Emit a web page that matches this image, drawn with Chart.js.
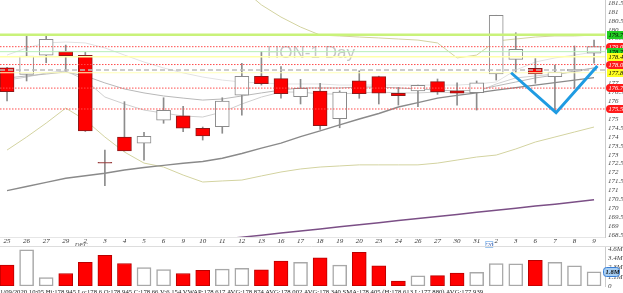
<!DOCTYPE html>
<html>
<head>
<meta charset="utf-8">
<script src="https://cdn.jsdelivr.net/npm/chart.js@4.4.1/dist/chart.umd.min.js"></script>
<style>
  html, body { margin: 0; padding: 0; background: #fff; width: 623px; height: 293px; overflow: hidden; }
  #wrap { position: relative; width: 623px; height: 293px; overflow: hidden; }
  #priceChart { position: absolute; left: 0; top: 0; }
  #volChart { position: absolute; left: 0; top: 240px; }
  #status { position: absolute; left: 0; top: 287px; font: 6.7px "Liberation Serif", "DejaVu Serif", serif; color: #222; white-space: nowrap; line-height: 10px; }
</style>
</head>
<body>
<div id="wrap">
  <canvas id="priceChart" width="623" height="250"></canvas>
  <canvas id="volChart" width="623" height="53"></canvas>
  <div id="status">1/09/2020 10:05 Hi:178.945 Lo:178.6 O:178.945 C:178.66 V:6.154 VWAP:178.617 AVG:178.874 AVG:178.002 AVG:178.340 SMA:178.405 (H:178.613 L:177.880) AVG:177.939</div>
</div>
<script>
// daily bars, HON
const dateLabels = ['25','26','27','29','2','3','4','5','6','9','10','11','12','13','16','17','18','19','20','23','24','26','27','30','31','2','3','6','7','8','9'];
const monthLabels = { 4: 'DEC', 25: "'20" };

const opens  = [177.87, 177.50, 178.58, 178.77, 178.57, 172.57, 173.99, 173.65, 174.93, 175.18, 174.48, 174.57, 176.33, 177.39, 177.26, 176.25, 176.57, 175.02, 177.14, 177.37, 176.44, 176.57, 177.09, 176.58, 176.47, 177.52, 178.34, 177.84, 177.37, 177.69, 178.68];
const highs  = [177.90, 179.74, 179.67, 179.14, 178.74, 173.26, 175.97, 174.25, 176.19, 175.71, 174.55, 176.19, 178.12, 178.77, 177.93, 177.22, 177.00, 176.58, 177.70, 177.40, 176.77, 176.90, 177.24, 177.03, 177.13, 180.81, 179.83, 178.38, 178.02, 179.09, 179.42];
const lows   = [176.01, 177.13, 178.15, 177.69, 174.30, 171.26, 173.20, 172.70, 174.76, 174.29, 173.82, 174.20, 175.22, 176.90, 176.16, 175.84, 174.42, 174.51, 176.16, 175.84, 175.78, 175.69, 176.38, 175.77, 175.50, 177.18, 177.59, 177.00, 175.41, 176.72, 178.12];
const closes = [176.53, 178.53, 179.46, 178.55, 174.33, 172.53, 173.21, 174.03, 175.49, 174.48, 174.05, 176.01, 177.39, 176.98, 176.42, 176.72, 174.62, 176.51, 176.42, 176.44, 176.30, 176.89, 176.51, 176.44, 177.03, 180.81, 178.90, 177.52, 177.63, 177.78, 179.05];
const volumes = [2.6, 4.5, 1.05, 1.55, 2.95, 3.8, 2.8, 2.3, 2.05, 1.55, 1.95, 2.1, 2.2, 2.0, 3.1, 2.95, 3.5, 2.6, 4.2, 2.5, 0.6, 1.25, 1.3, 1.6, 1.7, 2.8, 2.75, 3.2, 2.95, 2.5, 1.75];

// overlays
const sma50   = [170.99, 171.22, 171.45, 171.68, 171.82, 171.96, 172.14, 172.28, 172.40, 172.52, 172.62, 172.80, 173.07, 173.37, 173.65, 174.01, 174.33, 174.67, 175.00, 175.31, 175.67, 175.92, 176.17, 176.32, 176.46, 176.62, 176.76, 176.90, 177.04, 177.18, 177.32];
const maMid   = [177.30, 177.41, 177.52, 177.63, 177.41, 177.02, 176.68, 176.46, 176.29, 176.17, 176.06, 176.12, 176.29, 176.46, 176.62, 176.74, 176.74, 176.74, 176.79, 176.79, 176.74, 176.68, 176.62, 176.57, 176.62, 176.85, 177.07, 177.30, 177.46, 177.69, 177.86];
const maFast  = [177.18, 177.35, 177.58, 177.69, 177.18, 176.23, 175.84, 175.50, 175.33, 175.17, 175.11, 175.39, 175.84, 176.23, 176.51, 176.51, 176.40, 176.40, 176.46, 176.51, 176.46, 176.46, 176.51, 176.46, 176.51, 176.96, 177.30, 177.41, 177.52, 177.63, 177.86];
const maSlow  = [178.58, 178.98, 179.26, 179.31, 179.26, 178.98, 178.58, 178.19, 177.86, 177.58, 177.35, 177.18, 177.07, 177.02, 176.96, 176.96, 176.96, 176.90, 176.90, 176.90, 176.90, 176.90, 176.90, 176.90, 176.96, 177.07, 177.74, 178.19, 178.42, 178.58, 178.75];
const bandUpper = [null, null, null, null, null, null, null, null, null, null, null, null, 182.33, 181.39, 180.71, 180.15, 179.70, 179.65, 179.59, 179.54, 179.48, 179.42, 179.26, 178.42, 178.58, 179.37, 179.48, 179.59, 179.65, 179.65, 179.70];
const bandLower = [173.26, 173.99, 174.77, 175.61, 174.94, 173.99, 173.15, 172.53, 172.31, 171.86, 171.47, 171.53, 171.58, 171.81, 172.03, 172.20, 172.31, 172.37, 172.43, 172.43, 172.43, 172.43, 172.53, 172.70, 172.87, 172.98, 173.32, 173.71, 173.99, 174.27, 174.55];
const sma200  = [166.99, 167.10, 167.22, 167.33, 167.45, 167.57, 167.68, 167.80, 167.91, 168.03, 168.15, 168.26, 168.38, 168.49, 168.61, 168.73, 168.84, 168.96, 169.07, 169.19, 169.31, 169.42, 169.54, 169.65, 169.77, 169.89, 170.00, 170.12, 170.23, 170.35, 170.47];

// horizontal levels and their axis tags
const levelPrices = [179.72, 179.05, 178.77, 178.49, 178.05, 177.74, 177.59, 176.73, 175.56];
const tagTexts  = ['179.72', '179.05', '178.77', '178.49', '178.05', '177.87', '176.73', '175.56'];
const tagPrices = [179.72, 179.05, 178.77, 178.49, 178.05, 177.59, 176.73, 175.56];
const tagKinds  = ['green', 'red', 'green', 'yellow', 'red', 'yellow', 'red', 'red'];

// hand drawn V
const vPattern = [{x: 25.76, y: 177.59}, {x: 28.06, y: 175.35}, {x: 30.17, y: 177.97}];

const priceTicks = [168.5, 169, 169.5, 170, 170.5, 171, 171.5, 172, 172.5, 173, 173.5, 174, 174.5, 175, 175.5, 176, 176.5, 177, 177.5, 178, 178.5, 179, 179.5, 180, 180.5, 181, 181.5];
const volumeTicks = [0, 1.15, 2.3, 3.45, 4.6];
const volumeTickLabels = ['0', '1.1M', '2.3M', '3.4M', '4.6M'];
const lastVolumeTag = '1.8M';
const watermark = 'HON-1 Day';

const X_MIN = -0.36, X_MAX = 30.56;
const tickFont = { family: "'Liberation Serif', 'DejaVu Serif', serif", size: 7, style: 'italic' };

const isDown = (i) => closes[i] < opens[i];
const isDoji = (i) => Math.abs(closes[i] - opens[i]) < 0.06;
const pts = (vals) => vals.map((v, i) => ({ x: i, y: v }));

const lineDs = (vals, color, width, order) => ({
  type: 'line', data: pts(vals), borderColor: color, borderWidth: width,
  pointRadius: 0, tension: 0, fill: false, order: order, spanGaps: false
});

// level line styles
const levelStyles = [
  { color: '#c9f27a', width: 2.5, dash: [] },
  { color: '#ff4d4d', width: 1, dash: [1.5, 1.5] },
  { color: '#b6efb6', width: 1, dash: [] },
  { color: '#ffffaa', width: 1.5, dash: [] },
  { color: '#ff4d4d', width: 1, dash: [1.5, 1.5] },
  { color: '#bdbdbd', width: 1.5, dash: [5, 3] },
  { color: '#ffffb8', width: 1, dash: [] },
  { color: '#ff4d4d', width: 1, dash: [1.5, 1.5] },
  { color: '#ff4d4d', width: 1, dash: [1.5, 1.5] }
];

const levelSets = levelPrices.map((p, k) => ({
  type: 'line',
  data: [{ x: X_MIN, y: p }, { x: X_MAX, y: p }],
  borderColor: levelStyles[k].color,
  borderWidth: levelStyles[k].width,
  borderDash: levelStyles[k].dash,
  pointRadius: 0, fill: false, order: 1
}));

const idx = dateLabels.map((_, i) => i);

const priceDecor = {
  id: 'priceDecor',
  beforeDatasetsDraw(chart) {
    const { ctx, chartArea } = chart;
    ctx.save();
    ctx.font = "17px 'Liberation Sans', Arial, sans-serif";
    ctx.fillStyle = '#c6c6c6';
    ctx.textAlign = 'center';
    ctx.textBaseline = 'alphabetic';
    ctx.fillText(watermark, chartArea.left + chartArea.width * 0.514, 58);
    ctx.restore();
  },
  afterDraw(chart) {
    const { ctx, chartArea, scales } = chart;
    ctx.save();
    ctx.font = "italic 6.5px 'Liberation Serif', serif";
    ctx.textBaseline = 'middle';
    tagPrices.forEach((p, k) => {
      const y = Math.round(scales.y.getPixelForValue(p));
      const x0 = chartArea.right + 1;
      const w = chart.width - x0;
      const kind = tagKinds[k];
      let fill = '#22cc22', txt = '#000';
      if (kind === 'red') { fill = '#ff1a1a'; txt = '#fff'; }
      if (kind === 'yellow') { fill = '#ffff22'; txt = '#000'; }
      ctx.fillStyle = fill;
      ctx.beginPath();
      if (kind === 'red') {
        ctx.moveTo(x0 + 4, y - 4);
        ctx.lineTo(x0 + w, y - 4);
        ctx.lineTo(x0 + w, y + 4);
        ctx.lineTo(x0 + 4, y + 4);
        ctx.arc(x0 + 4, y, 4, Math.PI / 2, Math.PI * 1.5);
      } else {
        ctx.rect(x0 + 1, y - 4, w, 8);
      }
      ctx.fill();
      ctx.fillStyle = txt;
      ctx.textAlign = 'left';
      ctx.fillText(tagTexts[k], x0 + 2.5, y + 0.5);
    });

    // month markers under the date row
    ctx.font = "italic 6.5px 'Liberation Serif', serif";
    ctx.fillStyle = '#444';
    ctx.textAlign = 'center';
    Object.keys(monthLabels).forEach((key) => {
      const x = scales.x.getPixelForValue(Number(key));
      if (monthLabels[key] === 'DEC') {
        ctx.fillText(monthLabels[key], x - 4, 245);
      } else {
        ctx.strokeStyle = '#9cc4ee';
        ctx.strokeRect(x - 10.5, 241.5, 7, 6);
        ctx.fillStyle = '#3355aa';
        ctx.fillText(monthLabels[key], x - 7, 245);
      }
    });
    ctx.restore();
  }
};

new Chart(document.getElementById('priceChart'), {
  type: 'bar',
  data: {
    datasets: [
      { type: 'line', data: vPattern, borderColor: '#1f9be2', borderWidth: 3, pointRadius: 0, tension: 0, fill: false, order: 0 },
      ...levelSets,
      {
        type: 'bar',
        data: idx.map(i => ({ x: i, y: [opens[i], closes[i]] })),
        backgroundColor: idx.map(i => isDoji(i) ? '#9a3c3c' : (isDown(i) ? '#ff0000' : '#ffffff')),
        borderColor: idx.map(i => isDoji(i) ? '#9a3c3c' : (isDown(i) ? '#8c1a1a' : '#8a8a8a')),
        borderWidth: 1, borderSkipped: false, barThickness: 14, grouped: false, order: 2
      },
      {
        type: 'bar',
        data: idx.map(i => ({ x: i, y: [lows[i], highs[i]] })),
        backgroundColor: '#8c8c8c', borderWidth: 0, barThickness: 1, grouped: false, order: 3
      },
      lineDs(sma50, '#8a8a8a', 1.4, 4),
      lineDs(maMid, '#b8b8b8', 1, 5),
      lineDs(maFast, '#cfcfcf', 1, 6),
      lineDs(maSlow, '#e2e2e2', 1, 7),
      lineDs(bandUpper, '#d3d3a0', 1, 8),
      lineDs(bandLower, '#d3d3a0', 1, 9),
      lineDs(sma200, '#7b4f86', 1.5, 10)
    ]
  },
  options: {
    animation: false, responsive: false, devicePixelRatio: 1,
    layout: { padding: 0 },
    plugins: { legend: { display: false }, tooltip: { enabled: false } },
    scales: {
      x: {
        type: 'linear', min: X_MIN, max: X_MAX, offset: false,
        grid: { display: false, drawTicks: false, offset: false },
        border: { display: true, color: '#e6e6e6' },
        ticks: { autoSkip: false, maxRotation: 0, padding: 0, font: tickFont, color: '#333',
          callback: (v) => dateLabels[v] !== undefined ? dateLabels[v] : '' },
        afterBuildTicks: (s) => { s.ticks = idx.map(i => ({ value: i })); },
        afterFit: (s) => { s.height = 13; s.paddingLeft = 0; s.paddingRight = 0; }
      },
      y: {
        type: 'linear', position: 'right', min: 168.39, max: 181.665,
        grid: { display: false, drawTicks: false },
        border: { display: true, color: '#cccccc' },
        ticks: { autoSkip: false, padding: 3, font: tickFont, color: '#444', callback: (v) => String(v) },
        afterBuildTicks: (s) => { s.ticks = priceTicks.map(v => ({ value: v })); },
        afterFit: (s) => { s.width = 18; s.paddingTop = 0; s.paddingBottom = 0; }
      }
    }
  },
  plugins: [priceDecor]
});

const volDecor = {
  id: 'volDecor',
  beforeDraw(chart) {
    const { ctx, chartArea } = chart;
    ctx.save();
    ctx.strokeStyle = '#dddddd';
    ctx.lineWidth = 1;
    ctx.beginPath();
    ctx.moveTo(0, chartArea.top - 0.5);
    ctx.lineTo(chart.width, chartArea.top - 0.5);
    ctx.stroke();
    ctx.restore();
  },
  afterDraw(chart) {
    const { ctx, chartArea, scales } = chart;
    const y = Math.round(scales.y.getPixelForValue(volumes[volumes.length - 1]));
    const x0 = chartArea.right - 2;
    ctx.save();
    ctx.fillStyle = '#a6cdf2';
    ctx.strokeStyle = '#3a7fd6';
    ctx.lineWidth = 1;
    ctx.beginPath();
    ctx.roundRect(x0 + 0.5, y - 4.5, 16, 9, 3);
    ctx.fill();
    ctx.stroke();
    ctx.fillStyle = '#111';
    ctx.font = "italic bold 6.5px 'Liberation Serif', serif";
    ctx.textBaseline = 'middle';
    ctx.textAlign = 'left';
    ctx.fillText(lastVolumeTag, x0 + 2.5, y + 0.5);
    ctx.restore();
  }
};

new Chart(document.getElementById('volChart'), {
  type: 'bar',
  data: {
    datasets: [{
      data: idx.map(i => ({ x: i, y: volumes[i] })),
      backgroundColor: idx.map(i => isDown(i) ? '#ff0000' : '#ffffff'),
      borderColor: idx.map(i => isDown(i) ? '#b80000' : '#a8a8a8'),
      borderWidth: idx.map(i => isDown(i) ? 1 : 1.5),
      borderSkipped: false, barThickness: 14, grouped: false
    }]
  },
  options: {
    animation: false, responsive: false, devicePixelRatio: 1,
    layout: { padding: { top: 7, bottom: 7, left: 0, right: 0 } },
    plugins: { legend: { display: false }, tooltip: { enabled: false } },
    scales: {
      x: { type: 'linear', min: X_MIN, max: X_MAX, offset: false, display: false },
      y: {
        type: 'linear', position: 'right', min: 0, max: 4.85,
        grid: { display: false, drawTicks: false },
        border: { display: true, color: '#cccccc' },
        ticks: { autoSkip: false, padding: 3, font: tickFont, color: '#444',
          callback: (v) => { const k = volumeTicks.indexOf(v); return k >= 0 ? volumeTickLabels[k] : ''; } },
        afterBuildTicks: (s) => { s.ticks = volumeTicks.map(v => ({ value: v })); },
        afterFit: (s) => { s.width = 18; s.paddingTop = 0; s.paddingBottom = 0; }
      }
    }
  },
  plugins: [volDecor]
});
</script>
</body>
</html>
